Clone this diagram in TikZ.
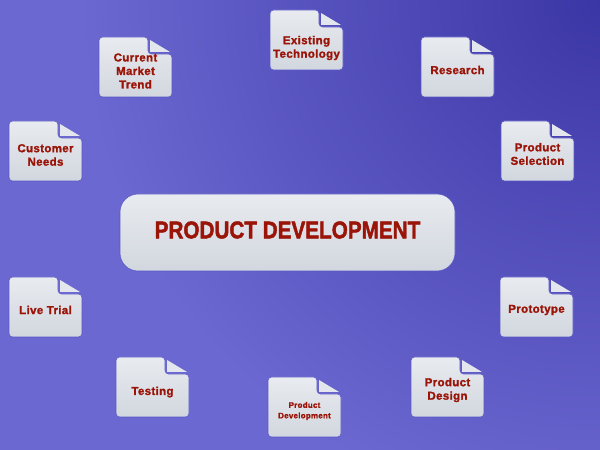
\documentclass[tikz,border=0pt]{standalone}
\usepackage{fontspec}
\newfontfamily\lblfont{Liberation Sans}[LetterSpace=3,FakeBold=1.6]
\newfontfamily\ttlfont{Liberation Sans}[FakeBold=2]
\definecolor{bglight}{HTML}{6C68D1}
\definecolor{bgdark}{HTML}{3B36A5}
\definecolor{boxtop}{HTML}{E8EBEF}
\definecolor{boxbot}{HTML}{D2D7DF}
\definecolor{foldc}{HTML}{E3E6EC}
\definecolor{boxedge}{HTML}{5A56C6}
\definecolor{txtred}{HTML}{9A1408}
\tikzset{
  lbl/.style={font=\lblfont\bfseries\fontsize{11.5}{13.5}\selectfont, text=txtred, align=center, inner sep=0pt},
  lblsmall/.style={font=\lblfont\bfseries\fontsize{8}{10.5}\selectfont, text=txtred, align=center, inner sep=0pt},
  ttl/.style={font=\ttlfont\bfseries\fontsize{23}{26}\selectfont, text=txtred, inner sep=0pt},
  bodyfill/.style={top color=boxtop, bottom color=boxbot, draw=boxedge, line width=0.6pt},
}
% #1 node name, #2 left (image px), #3 top (image px), #4 style, #5 text, #6 extra downward shift of text
\newcommand\docbox[6]{%
  \pgfmathsetmacro\Lx{#2}%
  \pgfmathsetmacro\Rx{#2+73}%
  \pgfmathsetmacro\Ty{450-#3}%
  \pgfmathsetmacro\By{450-#3-60}%
  \shadedraw[bodyfill, rounded corners=3.5pt]
    (\Lx,\By) -- (\Lx,\Ty) -- (\Rx-24,\Ty) -- (\Rx-24,\Ty-17) -- (\Rx,\Ty-17) -- (\Rx,\By) -- cycle;
  \fill[foldc] (\Rx-22,\Ty-3) -- (\Rx-22,\Ty-15) -- (\Rx-2,\Ty-15) -- cycle;
  \node[#4] (#1) at (\Lx+36.5,\Ty-33-#6) {#5};
}
\begin{document}
\begin{tikzpicture}[x=1pt,y=1pt]
  \useasboundingbox (0,0) rectangle (600,450);
  \fill[bglight] (0,0) rectangle (600,450);
  \begin{scope}
    \clip (0,0) rectangle (600,450);
    \shade[inner color=bgdark, outer color=bglight] (600,450) circle[radius=520];
  \end{scope}
  % centre box
  \shadedraw[bodyfill, rounded corners=18pt] (120,179) rectangle (455,256);
  \node[ttl] (main) at (287.5,220) {\scalebox{0.9}[1.05]{PRODUCT DEVELOPMENT}};
  % surrounding documents
  \docbox{tech}{270}{10}{lbl}{Existing\\Technology}{5}
  \docbox{trend}{99}{37}{lbl}{Current\\Market\\Trend}{1}
  \docbox{research}{421}{37}{lbl}{Research}{0}
  \docbox{needs}{9}{121}{lbl}{Customer\\Needs}{1}
  \docbox{selection}{501}{121}{lbl}{Product\\Selection}{0}
  \docbox{trial}{9}{277}{lbl}{Live Trial}{0}
  \docbox{proto}{500}{277}{lbl}{Prototype}{0}
  \docbox{testing}{116}{357}{lbl}{Testing}{2}
  \docbox{devel}{268}{377}{lblsmall}{Product\\Development}{1}
  \docbox{design}{411}{357}{lbl}{Product\\Design}{0}
\end{tikzpicture}
\end{document}
